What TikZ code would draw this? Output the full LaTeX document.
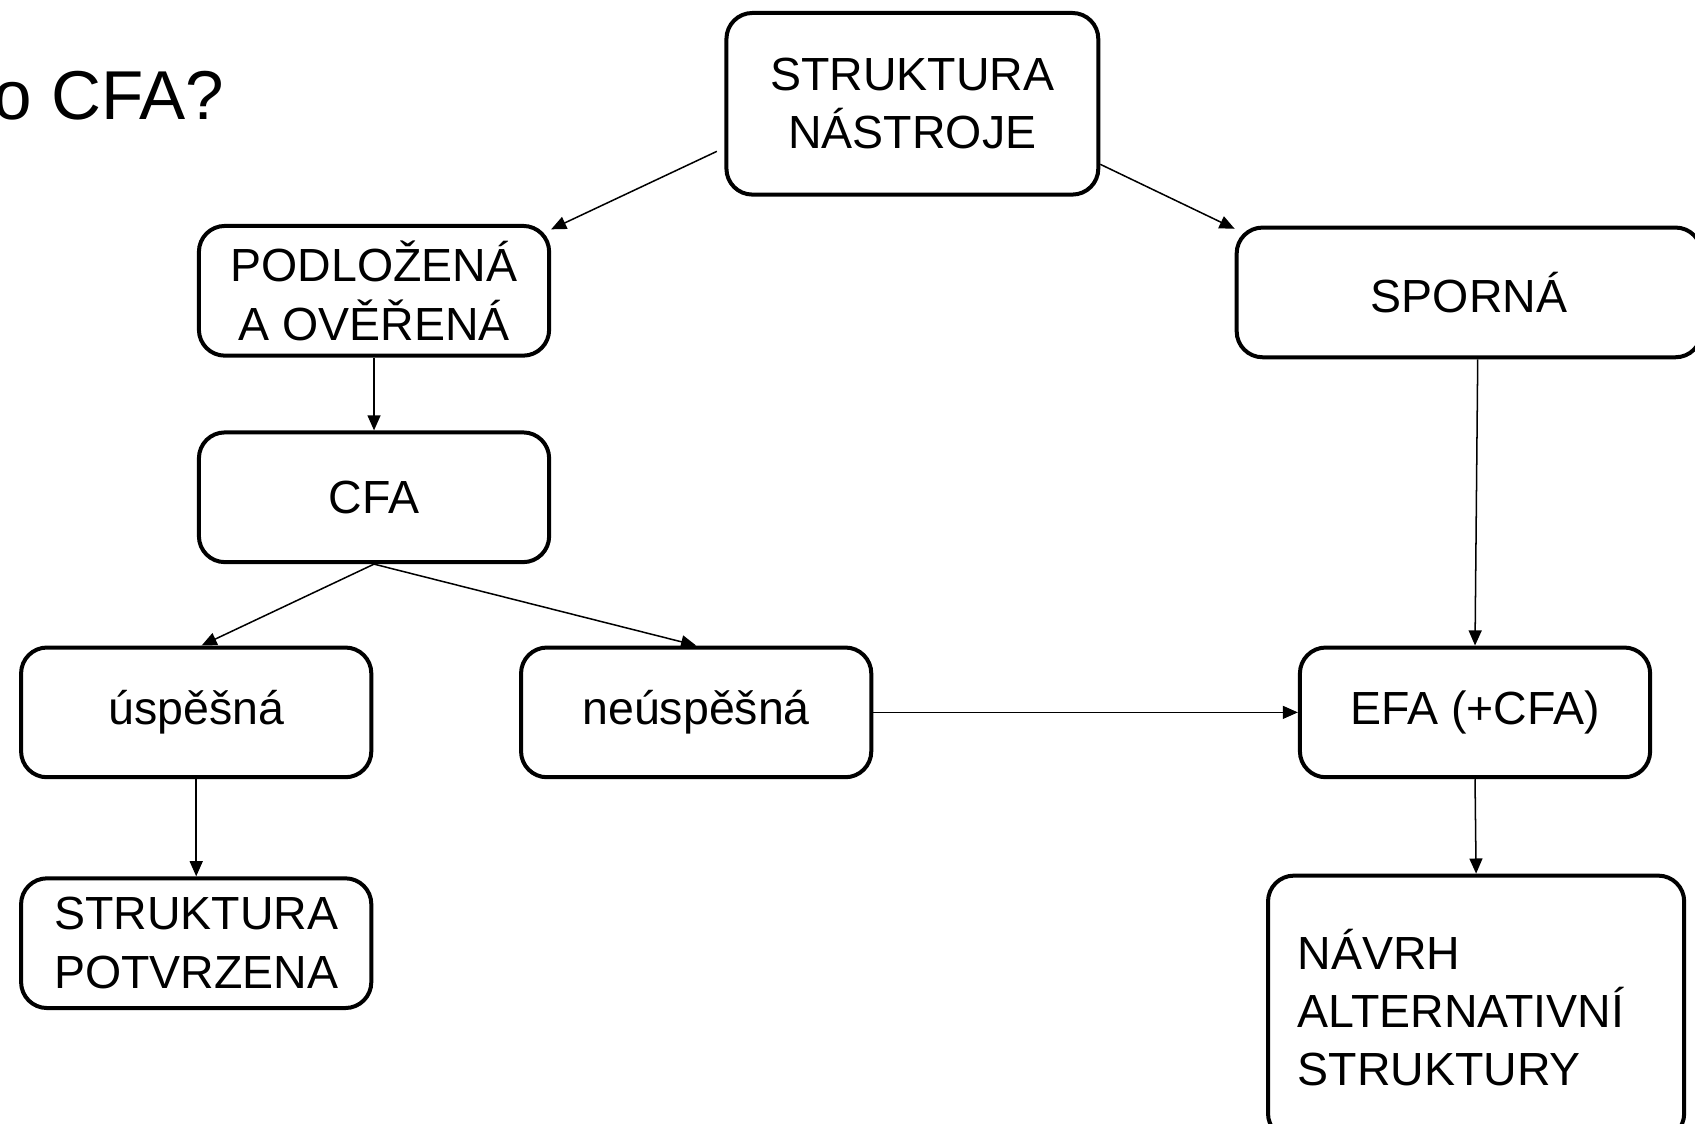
\documentclass[tikz,border=0pt]{standalone}
\usepackage{fontspec}
\setmainfont{Liberation Sans}
\usetikzlibrary{arrows.meta,calc}

\begin{document}
\begin{tikzpicture}[x=0.5pt, y=-0.5pt,
    box/.style={draw, line width=1.85pt, rounded corners=12pt, align=center,
      minimum width=162pt, minimum height=60pt, inner sep=0pt,
      font=\fontsize{21.5}{27}\selectfont},
    arr/.style={-{Triangle[length=7pt,width=6pt]}, line width=0.7pt}]
    \useasboundingbox (0,0) rectangle (1568,1039);

    \node[anchor=base east, inner sep=0pt, font=\fontsize{32}{38}\selectfont] (title) at (208,111) {o CFA?};

    \node[box, minimum width=172pt, minimum height=84pt] (top) at (844,96) {STRUKTURA\\NÁSTROJE};
    \node[box] (podl) at (346,269) {PODLOŽENÁ\\A OVĚŘENÁ};
    \node[box] (cfa) at (346,460) {CFA};
    \node[box] (usp) at (181.5,659) {úspěšná};
    \node[box] (neusp) at (644,659) {neúspěšná};
    \node[box] (potv) at (181.5,872.5) {STRUKTURA\\POTVRZENA};
    \node[box, minimum width=215pt] (sporna) at (1359,270.5) {SPORNÁ};
    \node[box] (efa) at (1364.5,659) {EFA (+CFA)};
    \node[box, minimum width=192.5pt, minimum height=122pt, align=left, text width=165pt] (navrh) at (1365.5,932) {NÁVRH\\ALTERNATIVNÍ\\STRUKTURY};

    \draw[arr] ($(top.west)+(-7,44)$) -- ($(podl.north east)+(0,5)$);
    \draw[arr] ($(top.east)+(0,56)$) -- ($(sporna.north west)+(0,3)$);
    \draw[arr] (podl.south) -- (cfa.north);
    \draw[arr] (cfa.south) -- ($(usp.north)+(5,0)$);
    \draw[arr] (cfa.south) -- (neusp.north);
    \draw[arr] (neusp.east) -- (efa.west);
    \draw[arr] ($(sporna.south)+(8,0)$) -- (efa.north);
    \draw[arr] (usp.south) -- (potv.north);
    \draw[arr] (efa.south) -- (navrh.north);
\end{tikzpicture}
\end{document}
